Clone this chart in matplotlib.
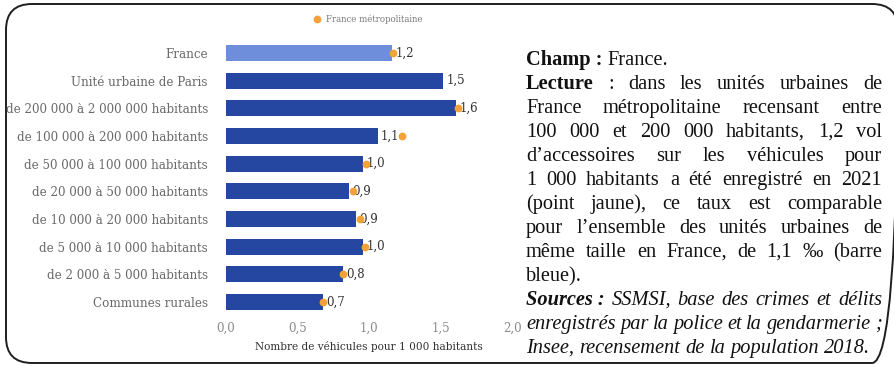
import numpy as np
import matplotlib
matplotlib.use("Agg")
import matplotlib.pyplot as plt
from matplotlib.patches import FancyBboxPatch

# ---- data -------------------------------------------------------------
categories = [
    "France",
    "Unité urbaine de Paris",
    "de 200 000 à 2 000 000 habitants",
    "de 100 000 à 200 000 habitants",
    "de 50 000 à 100 000 habitants",
    "de 20 000 à 50 000 habitants",
    "de 10 000 à 20 000 habitants",
    "de 5 000 à 10 000 habitants",
    "de 2 000 à 5 000 habitants",
    "Communes rurales",
]
rate_france = [1.16, 1.52, 1.61, 1.06, 0.96, 0.86, 0.91, 0.96, 0.82, 0.68]
rate_metro = [1.17, np.nan, 1.62, 1.23, 0.98, 0.89, 0.94, 0.97, 0.82, 0.68]
x_ticks = [0.0, 0.5, 1.0, 1.5, 2.0]
legend_label = "France métropolitaine"
x_title = "Nombre de véhicules pour 1 000 habitants"

# ---- style ------------------------------------------------------------
W, H, DPI = 895, 367, 100
DARK_BLUE = "#2547a2"
LIGHT_BLUE = "#6e8edb"
ORANGE = "#f3a23a"
CHART_FONT = ["DejaVu Serif"]
NOTE_FONT = ["Liberation Serif", "DejaVu Serif"]

fig = plt.figure(figsize=(W / DPI, H / DPI), dpi=DPI)
fig.patch.set_facecolor("white")

# full-figure layer in pixel units (y downwards) for frame and notes
bg = fig.add_axes([0, 0, 1, 1], zorder=0)
bg.set_xlim(0, W)
bg.set_ylim(H, 0)
bg.axis("off")

R = 26
fx0, fy0, fx1, fy1 = 6, 4, 898, 363
frame = FancyBboxPatch((fx0 + R, fy0 + R), fx1 - fx0 - 2 * R, fy1 - fy0 - 2 * R,
                       boxstyle=f"round,pad={R},rounding_size={R}",
                       facecolor="none", edgecolor="#1e1e1e", linewidth=1.4,
                       clip_on=False)
bg.add_patch(frame)

# ---- bar chart --------------------------------------------------------
left_px, right_px = 226, 512
top_px, bottom_px = 39.2, 315.9
ax = fig.add_axes([left_px / W, 1 - bottom_px / H,
                   (right_px - left_px) / W, (bottom_px - top_px) / H], zorder=2)
ax.patch.set_alpha(0)

y = np.arange(len(categories))
colors = [LIGHT_BLUE] + [DARK_BLUE] * (len(categories) - 1)
ax.barh(y, rate_france, height=0.58, color=colors, zorder=2)

for yi, v in zip(y, rate_france):
    ax.annotate(f"{v:.1f}".replace(".", ","), (v, yi), xytext=(2.5, 0),
                textcoords="offset points", ha="left", va="center",
                fontsize=8.5, color="#333333", family=CHART_FONT, zorder=3)

ax.plot(rate_metro, y, "o", color=ORANGE, markersize=4.6, zorder=4,
        linestyle="none")

ax.set_xlim(0, 2.0)
ax.set_ylim(len(categories) - 0.5, -0.5)
ax.set_xticks(x_ticks)
ax.set_xticklabels([f"{t:.1f}".replace(".", ",") for t in x_ticks],
                   family=CHART_FONT, fontsize=8.5, color="#8a8a8a")
ax.set_yticks(y)
ax.set_yticklabels(categories, family=CHART_FONT, fontsize=8.6, color="#6a6a6a")
ax.tick_params(axis="y", length=0, pad=13)
ax.tick_params(axis="x", length=0, pad=4)
for s in ax.spines.values():
    s.set_visible(False)
ax.set_xlabel(x_title, family=CHART_FONT, fontsize=7.6, color="#333333",
              labelpad=5)

# legend above the chart
bg.plot([317], [19], "o", color=ORANGE, markersize=4.6)
bg.text(326, 19, legend_label, family=CHART_FONT, fontsize=6.2,
        color="#7a7a7a", va="center", ha="left")

# ---- justified notes column -------------------------------------------
STY = {
    "r": dict(weight="normal", style="normal"),
    "b": dict(weight="bold", style="normal"),
    "i": dict(weight="normal", style="italic"),
    "bi": dict(weight="bold", style="italic"),
}
NOTE_SIZE = 14.7
note_left, note_right = 526, 882
base0, leading = 65, 24


def words(text, s):
    return [(w, s) for w in text.split(" ")]


lines = [
    ([("Champ :", "b")] + words("France.", "r"), False),
    ([("Lecture", "b")] + words(": dans les unités urbaines de", "r"), True),
    (words("France métropolitaine recensant entre", "r"), True),
    (words("100 000 et 200 000 habitants, 1,2 vol", "r"), True),
    (words("d’accessoires sur les véhicules pour", "r"), True),
    (words("1 000 habitants a été enregistré en 2021", "r"), True),
    (words("(point jaune), ce taux est comparable", "r"), True),
    (words("pour l’ensemble des unités urbaines de", "r"), True),
    (words("même taille en France, de 1,1 ‰ (barre", "r"), True),
    (words("bleue).", "r"), False),
    ([("Sources :", "bi")] + words("SSMSI, base des crimes et délits", "i"), True),
    (words("enregistrés par la police et la gendarmerie ;", "i"), True),
    (words("Insee, recensement de la population 2018.", "i"), False),
]

fig.canvas.draw()
renderer = fig.canvas.get_renderer()


def measure(s, key):
    t = bg.text(0, 0, s, family=NOTE_FONT, fontsize=NOTE_SIZE, **STY[key])
    w = t.get_window_extent(renderer).width
    t.remove()
    return w


space_w = NOTE_SIZE * DPI / 72 * 0.25
for i, (ws, justify) in enumerate(lines):
    widths = [measure(w, k) for w, k in ws]
    if justify and len(ws) > 1:
        gap = (note_right - note_left - sum(widths)) / (len(ws) - 1)
    else:
        gap = space_w
    x = note_left
    yb = base0 + i * leading
    for (w, k), wd in zip(ws, widths):
        bg.text(x, yb, w, family=NOTE_FONT, fontsize=NOTE_SIZE, color="#111111",
                va="baseline", ha="left", **STY[k])
        x += wd + gap

fig.savefig("out.png", dpi=DPI, facecolor="white")
